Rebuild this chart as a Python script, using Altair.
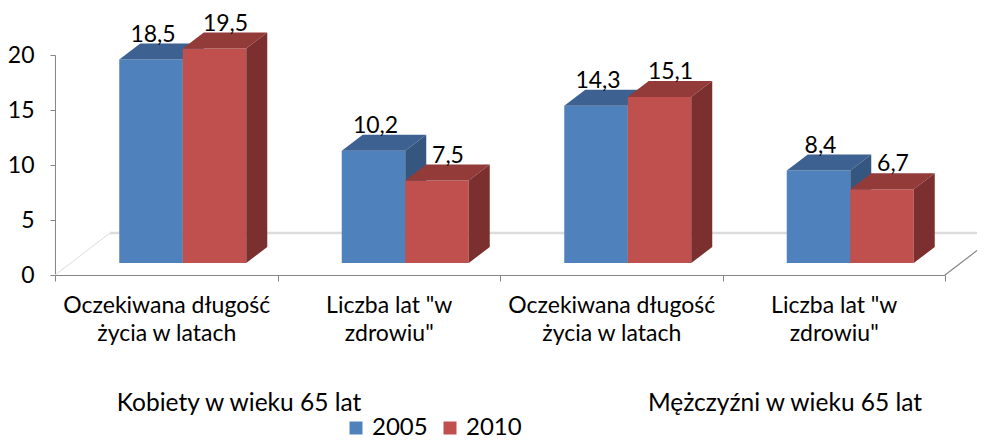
import altair as alt
import pandas as pd

# ---------------- data ----------------
groups = ["Kobiety w wieku 65 lat", "Mężczyźni w wieku 65 lat"]
category_lines = [
    ["Oczekiwana długość", "życia w latach"],
    ['Liczba lat "w', 'zdrowiu"'],
    ["Oczekiwana długość", "życia w latach"],
    ['Liczba lat "w', 'zdrowiu"'],
]
series = ["2005", "2010"]
values_2005 = [18.5, 10.2, 14.3, 8.4]
values_2010 = [19.5, 7.5, 15.1, 6.7]
y_ticks = [0, 5, 10, 15, 20]

# ---------------- style / geometry ----------------
FONT = "Lato"
W, H = 890, 220
PX_X = W / len(category_lines)      # px per category unit
PX_Y = H / 20                       # px per value unit
BW = 63.5 / PX_X                    # bar width (category units)
OX, OY = 16.5 / PX_X, 12 / PX_Y     # 3D offset of bar front from floor front
DXB, DYB = 21 / PX_X, 16 / PX_Y     # bar depth
DXF, DYF = 55 / PX_X, 42 / PX_Y     # floor depth
FRONT = ["#4F81BD", "#C0504D"]
TOP = ["#3D6191", "#933B39"]
SIDE = ["#35567F", "#7B2F2E"]
LAB_OFF = [2 / PX_X, 11 / PX_X]
AXIS_GREY = "#868686"

front_rows, top_rows, side_rows, label_rows = [], [], [], []
for s_idx, (s, vals) in enumerate(zip(series, [values_2005, values_2010])):
    for i, v in enumerate(vals):
        xl = i + 0.5 - BW + s_idx * BW + OX
        xr = xl + BW
        y0, y1 = OY, OY + v
        bar = f"{s}-{i}"
        front_rows.append(dict(series=s, bar=bar, xl=xl, xr=xr, y0=y0, y1=y1))
        for x, ya, yb in [(xl, y1, y1), (xl + DXB, y1, y1 + DYB),
                          (xr, y1, y1 + DYB), (xr + DXB, y1 + DYB, y1 + DYB)]:
            top_rows.append(dict(series=s, bar=bar, x=x, ya=ya, yb=yb))
        for x, ya, yb in [(xr, y0, y1), (xr + DXB, y0 + DYB, y1 + DYB)]:
            side_rows.append(dict(series=s, bar=bar, x=x, ya=ya, yb=yb))
        label_rows.append(dict(series=s, x=(xl + xr) / 2 + LAB_OFF[s_idx], y=y1 + DYB,
                               text=f"{v:.1f}".replace(".", ",")))

front = pd.DataFrame(front_rows)
top = pd.DataFrame(top_rows)
side = pd.DataFrame(side_rows)
labels = pd.DataFrame(label_rows)

n = len(category_lines)
floor_back = pd.DataFrame({"x": [DXF, n + DXF], "y": [DYF, DYF]})
floor_left = pd.DataFrame({"x": [0, DXF], "y": [0, DYF]})
floor_right = pd.DataFrame({"x": [n, n + DXF], "y": [0, DYF]})


def js_arr(lines):
    return "[" + ",".join("'" + l.replace("'", "\\'") + "'" for l in lines) + "]"


label_expr = "''"
for i, lines in reversed(list(enumerate(category_lines))):
    label_expr = f"datum.value == {i + 0.5} ? {js_arr(lines)} : ({label_expr})"

xscale = alt.Scale(domain=[0, n], nice=False, zero=False)
yscale = alt.Scale(domain=[0, 20], nice=False, zero=False)
xaxis = alt.Axis(
    values=[k / 2 for k in range(2 * n + 1)],
    labelExpr=label_expr,
    tickOpacity={"condition": {"test": "datum.value % 1 == 0", "value": 1}, "value": 0},
    tickSize=6, tickColor=AXIS_GREY, domainColor=AXIS_GREY,
    labelFont=FONT, labelFontSize=23, labelColor="black", labelLineHeight=28,
    labelPadding=13, grid=False, labelOverlap=False, labelFlush=False, labelBound=False,
    labelLimit=0,
)
yaxis = alt.Axis(
    values=y_ticks, tickSize=5, tickColor=AXIS_GREY, domainColor=AXIS_GREY,
    labelFont=FONT, labelFontSize=23, labelColor="black", labelPadding=16, grid=False,
)


def X(f):
    return alt.X(f, type="quantitative", scale=xscale, axis=xaxis, title=None)


def Y(f):
    return alt.Y(f, type="quantitative", scale=yscale, axis=yaxis, title=None, stack=False)


legend = alt.Legend(
    orient="none", legendX=289, legendY=361, direction="horizontal", title=None,
    symbolType="square", symbolSize=169, symbolStrokeWidth=0, labelFont=FONT,
    labelFontSize=24, labelColor="black", columnPadding=10, labelOffset=4, padding=0,
)
color = alt.Color("series:N", scale=alt.Scale(domain=series, range=FRONT), legend=legend)

layers = []
layers.append(alt.Chart(floor_back).mark_line(color="#DCDCDC", strokeWidth=2.5)
              .encode(x=X("x"), y=Y("y")))
layers.append(alt.Chart(floor_left).mark_line(color="#DCDCDC", strokeWidth=1)
              .encode(x=X("x"), y=Y("y")))
layers.append(alt.Chart(floor_right).mark_line(color=AXIS_GREY, strokeWidth=1.2)
              .encode(x=X("x"), y=Y("y")))

for s_idx, s in enumerate(series):
    layers.append(alt.Chart(front[front.series == s]).mark_rect()
                  .encode(x=X("xl"), x2="xr", y=Y("y0"), y2="y1", color=color))
    layers.append(alt.Chart(top[top.series == s]).mark_area(orient="vertical", color=TOP[s_idx])
                  .encode(x=X("x"), y=Y("ya"), y2="yb", detail="bar:N"))
    layers.append(alt.Chart(side[side.series == s]).mark_area(orient="vertical", color=SIDE[s_idx])
                  .encode(x=X("x"), y=Y("ya"), y2="yb", detail="bar:N"))

layers.append(alt.Chart(labels).mark_text(font=FONT, fontSize=23, color="black",
                                           baseline="middle", dy=-9)
              .encode(x=X("x"), y=Y("y"), text="text:N"))

group_x = [184, 730]
for g, gx in zip(groups, group_x):
    layers.append(alt.Chart(pd.DataFrame({"g": [g]}))
                  .mark_text(font=FONT, fontSize=24.5, color="black", baseline="alphabetic")
                  .encode(x=alt.value(gx), y=alt.value(356), text="g:N"))

chart = (
    alt.layer(*layers)
    .properties(width=W, height=H, autosize=alt.AutoSizeParams(type="none"),
                padding={"left": 47, "top": 47, "right": 32, "bottom": 165},
                background="white")
    .configure_view(stroke=None)
)

chart.save("out.html", embed_options={"renderer": "svg", "actions": False})
